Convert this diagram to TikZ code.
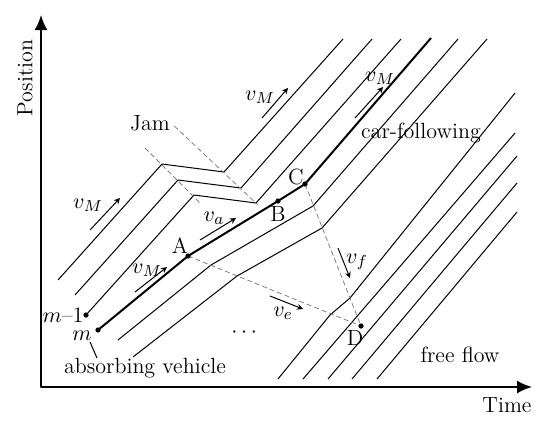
\documentclass[tikz,border=0pt]{standalone}
\usepackage{amsmath}
\usetikzlibrary{arrows.meta}

\begin{document}
\begin{tikzpicture}[x=0.5pt, y=-0.5pt, line join=round,
        axis/.style={line width=1pt, {Latex[length=7.5pt,width=6.5pt]}-{Latex[length=7.5pt,width=6.5pt]}},
        traj/.style={line width=0.5pt},
        vehm/.style={line width=1pt},
        wave/.style={gray, line width=0.4pt, dash pattern=on 2.5pt off 1.5pt},
        speed/.style={line width=0.5pt, -{Stealth[length=3pt,width=3pt]}},
        lbl/.style={font={\fontsize{11}{13}\selectfont}, inner sep=0pt}]
        \useasboundingbox (0,0) rectangle (550,425);

        % axes
        \coordinate (O) at (41,387);
        \coordinate (ytip) at (41,15);
        \coordinate (xtip) at (532,387);
        \draw[axis] (ytip) -- (O) -- (xtip);
        \node[lbl, rotate=90] (position) at (25,78) {Position};
        \node[lbl] (time) at (507,405) {Time};

        % points on the trajectory of vehicle m
        \coordinate (m1) at (86,315);
        \coordinate (m) at (98,330);
        \coordinate (A) at (188,256);
        \coordinate (B) at (278,201);
        \coordinate (C) at (305,184);
        \coordinate (D) at (361,326);

        % vehicles passing the jam
        \draw[traj] (58,280) -- (162,164) -- (224,172) -- (343,39);
        \draw[traj] (75,295) -- (178,180) -- (241,188) -- (372,39);
        \draw[traj] (m1) -- (194,195) -- (256,203) -- (401,39);
        \draw[vehm] (m) -- (A) -- (B) -- (C) -- (431,38);
        \draw[traj] (118,340) -- (211,265) -- (313,206) -- (458,39);
        \draw[traj] (133,357) -- (237,276) -- (322,228) -- (487,39);

        % free flow vehicles
        \draw[traj] (278,379) -- (330,315) -- (350,298) -- (515,93);
        \draw[traj] (303,379) -- (515,133);
        \draw[traj] (328,379) -- (517,156);
        \draw[traj] (352,379) -- (517,183);
        \draw[traj] (377,379) -- (517,212);

        % jam boundaries and waves
        \node[lbl] (jam) at (150,123) {Jam};
        \coordinate (jamup) at (145,148);
        \coordinate (jamupend) at (200,203);
        \coordinate (jamdownend) at (258,205);
        \draw[wave] (jamup) -- (jamupend);
        \draw[wave] (jam.east) ++(4,3) -- (jamdownend);
        \draw[wave] (A) -- (D);
        \draw[wave] (C) -- (D);

        % speeds
        \draw[speed] (90,230) -- (120,198);
        \node[lbl] (vm1) at (88,205) {$v_M$};
        \draw[speed] (262,118) -- (288,88);
        \node[lbl] (vm2) at (260,97) {$v_M$};
        \draw[speed] (355,118) -- (383,87);
        \node[lbl] (vm3) at (380,78) {$v_M$};
        \draw[speed] (135,292) -- (167,267);
        \node[lbl] (vm4) at (147,270) {$v_M$};
        \draw[speed] (200,240) -- (236,218);
        \node[lbl] (va) at (214,218) {$v_a$};
        \draw[speed] (338,248) -- (350,278);
        \node[lbl] (vf) at (357,262) {$v_f$};
        \draw[speed] (270,296) -- (303,309);
        \node[lbl] (ve) at (283,313) {$v_e$};

        % points and labels
        \foreach \p in {m1, m, A, B, C, D}
            \fill (\p) circle (1.3pt);
        \node[lbl] (labA) at (180,246) {A};
        \node[lbl] (labB) at (278,214) {B};
        \node[lbl] (labC) at (296,177) {C};
        \node[lbl] (labD) at (355,338) {D};
        \node[lbl] (labm1) at (63,315) {$m$--1};
        \node[lbl] (labm) at (82,336) {$m$};
        \node[lbl] (absorb) at (145,368) {absorbing vehicle};
        \coordinate (leadtop) at (90,342);
        \coordinate (leadbot) at (97,358);
        \draw[traj] (leadtop) -- (leadbot);
        \node[lbl] (dots) at (246,333) {$\cdots$};
        \node[lbl] (carfol) at (421,133) {car-following};
        \node[lbl] (free) at (460,355) {free flow};
    \end{tikzpicture}
\end{document}
